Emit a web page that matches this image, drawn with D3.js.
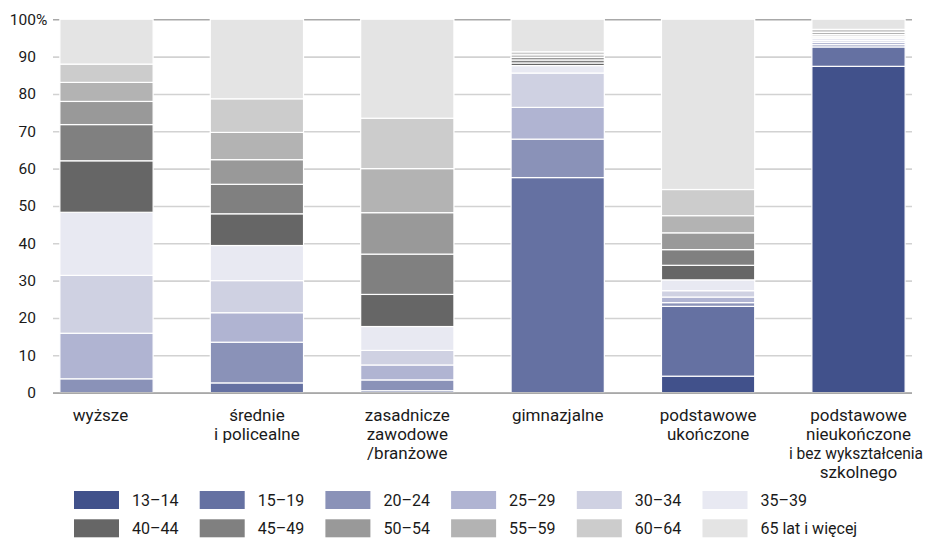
<!DOCTYPE html>
<meta charset="utf-8">
<style>
  body { margin: 0; background: #fff; }
  svg text { font-family: Roboto, "Noto Sans", sans-serif; fill: #1a1a1a; }
</style>
<svg width="930" height="539"></svg>
<script src="https://d3js.org/d3.v7.min.js"></script>
<script>

    // education levels (one line per array item)
    var categories = [
        ["wyższe"],
        ["średnie", "i policealne"],
        ["zasadnicze", "zawodowe", "/branżowe"],
        ["gimnazjalne"],
        ["podstawowe", "ukończone"],
        ["podstawowe", "nieukończone", "i bez wykształcenia", "szkolnego"]
    ];

    var ageGroups = ["13–14", "15–19", "20–24", "25–29", "30–34", "35–39",
                     "40–44", "45–49", "50–54", "55–59", "60–64", "65 lat i więcej"];

    // share (%) of each age group, one value per education level
    var a13_14 = [0, 0, 0, 0, 4.4, 87.4];
    var a15_19 = [0, 2.6, 0.5, 57.6, 18.7, 5.2];
    var a20_24 = [3.7, 10.9, 2.9, 10.3, 1.0, 0.6];
    var a25_29 = [12.2, 7.9, 4.0, 8.5, 1.5, 0.6];
    var a30_34 = [15.5, 8.6, 3.9, 9.2, 1.7, 0.5];
    var a35_39 = [16.9, 9.4, 6.4, 2.0, 2.9, 0.6];
    var a40_44 = [13.8, 8.5, 8.6, 0.7, 3.9, 0.3];
    var a45_49 = [9.7, 7.9, 10.8, 0.8, 4.2, 0.3];
    var a50_54 = [6.2, 6.6, 11.1, 0.7, 4.5, 0.4];
    var a55_59 = [5.1, 7.3, 11.8, 0.7, 4.6, 0.6];
    var a60_64 = [4.9, 9.0, 13.5, 0.8, 7.0, 0.8];
    var a65plus = [12.0, 21.3, 26.5, 8.7, 45.6, 2.7];

    var yTicks = [0, 10, 20, 30, 40, 50, 60, 70, 80, 90, 100];

    var colors = ["#41518b", "#6571a2", "#8a92b8", "#b0b4d2", "#cfd1e2", "#e8e9f2",
                  "#666666", "#808080", "#999999", "#b3b3b3", "#cccccc", "#e4e4e4"];

    var series = [a13_14, a15_19, a20_24, a25_29, a30_34, a35_39,
                  a40_44, a45_49, a50_54, a55_59, a60_64, a65plus];

    // table for d3.stack
    var table = categories.map(function(c, i) {
        var row = { cat: i };
        ageGroups.forEach(function(k, j) { row[k] = series[j][i]; });
        return row;
    });

    var svg = d3.select("svg");

    var x = d3.scaleBand()
        .domain(d3.range(categories.length))
        .range([31.3, 933.7])
        .paddingInner(0.38)
        .paddingOuter(0.19);

    var y = d3.scaleLinear()
        .domain([0, 100])
        .range([392.6, 19.3]);

    var color = d3.scaleOrdinal().domain(ageGroups).range(colors);

    var gridLeft = 53, gridRight = 912;

    // y axis with grid lines
    var yAxis = svg.append("g")
        .attr("transform", "translate(" + gridRight + ",0)")
        .call(d3.axisLeft(y)
              .tickValues(yTicks)
              .tickSize(gridRight - gridLeft)
              .tickPadding(17)
              .tickFormat(function(d) { return d; }));

    yAxis.select(".domain").remove();
    yAxis.selectAll(".tick line")
        .attr("stroke", function(d) { return d === 100 ? "#a8a8a8" : "#d2d2d2"; })
        .attr("stroke-width", 1.6);
    yAxis.selectAll(".tick text")
        .style("font-size", "15.5px")
        .attr("fill", "#1a1a1a");

    yAxis.selectAll(".tick")
        .filter(function(d) { return d === 100; })
        .append("text")
        .attr("x", -(gridRight - gridLeft) - 17)
        .attr("dy", "0.32em")
        .attr("text-anchor", "start")
        .attr("fill", "#1a1a1a")
        .style("font-size", "15.5px")
        .text("%");

    // stacked bars
    var stacked = d3.stack().keys(ageGroups)(table);

    svg.append("g")
        .selectAll("g")
        .data(stacked)
        .enter().append("g")
        .attr("fill", function(d) { return color(d.key); })
        .selectAll("rect")
        .data(function(d) { return d.filter(function(s) { return s[1] - s[0] > 0; }); })
        .enter().append("rect")
        .attr("x", function(d) { return x(d.data.cat); })
        .attr("width", x.bandwidth())
        .attr("y", function(d) { return y(d[1]); })
        .attr("height", function(d) { return y(d[0]) - y(d[1]); })
        .attr("stroke", "#fff")
        .attr("stroke-width", 1.2);

    // baseline
    svg.append("line")
        .attr("x1", gridLeft)
        .attr("x2", gridRight)
        .attr("y1", y(0) + 0.5)
        .attr("y2", y(0) + 0.5)
        .attr("stroke", "#a8a8a8")
        .attr("stroke-width", 1.6);

    // category labels
    var labels = svg.append("g")
        .selectAll("text")
        .data(categories)
        .enter().append("text")
        .attr("text-anchor", "middle")
        .style("font-size", "17px");

    labels.selectAll("tspan")
        .data(function(d, i) { return d.map(function(t) { return { t: t, i: i }; }); })
        .enter().append("tspan")
        .attr("x", function(d) { return x(d.i) + x.bandwidth() / 2 - (d.i === 0 ? 6 : 0); })
        .attr("y", function(d, j) { return 421 + j * 19; })
        .text(function(d) { return d.t; });

    // the longest line is a bit narrower in the original font
    labels.selectAll("tspan")
        .filter(function(d) { return d.t.length > 15; })
        .attr("x", 856)
        .style("font-size", "15.6px");

    // legend
    var legend = svg.append("g")
        .selectAll("g")
        .data(ageGroups)
        .enter().append("g")
        .attr("transform", function(d, i) {
            return "translate(" + (74 + (i % 6) * 125.7) + "," + (491 + Math.floor(i / 6) * 28.3) + ")";
        });

    legend.append("rect")
        .attr("width", 45)
        .attr("height", 18)
        .attr("fill", function(d) { return color(d); });

    legend.append("text")
        .attr("x", 58)
        .attr("y", 9)
        .attr("dy", "0.35em")
        .style("font-size", "16px")
        .text(function(d) { return d; });

</script>
